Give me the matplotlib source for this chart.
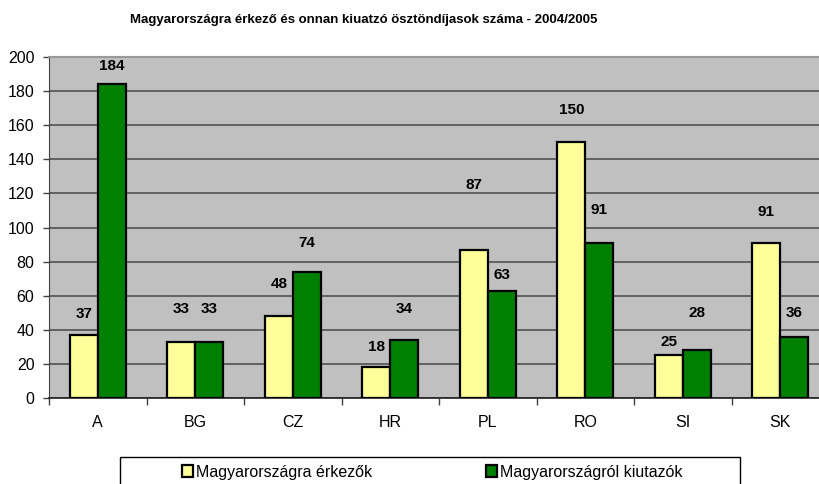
import matplotlib.pyplot as plt
from matplotlib.patches import Rectangle
import numpy as np

plt.rcParams['font.family'] = ['Liberation Sans', 'DejaVu Sans']

countries = ['A', 'BG', 'CZ', 'HR', 'PL', 'RO', 'SI', 'SK']
arriving = [37, 33, 48, 18, 87, 150, 25, 91]
leaving = [184, 33, 74, 34, 63, 91, 28, 36]
series_names = ['Magyarországra érkezők', 'Magyarországról kiutazók']

# label offsets above the bar tops (value units), as placed in the original
arr_off = [12, 19, 19, 12, 38, 19, 8, 18]
lea_off = [11, 19, 17, 18, 9, 19, 22, 14]

fig = plt.figure(figsize=(8.19, 4.84), dpi=100)
ax = fig.add_axes([49 / 819, 1 - 398 / 484, 780 / 819, 341 / 484])
ax.set_facecolor('#C0C0C0')

x = np.arange(len(countries))
w = 0.287
b1 = ax.bar(x - w / 2, arriving, w, color='#FFFF99', edgecolor='black', linewidth=1.6,
            label=series_names[0], zorder=3)
b2 = ax.bar(x + w / 2, leaving, w, color='#008000', edgecolor='black', linewidth=1.6,
            label=series_names[1], zorder=3)

for i in range(len(countries)):
    ax.text(x[i] - w / 2, arriving[i] + arr_off[i], str(arriving[i]), ha='center', va='center',
            fontsize=11, fontweight='bold')
    ax.text(x[i] + w / 2, leaving[i] + lea_off[i], str(leaving[i]), ha='center', va='center',
            fontsize=11, fontweight='bold')

ax.set_xlim(-0.5, len(countries) - 0.5)
ax.set_ylim(0, 200)
ax.set_yticks(range(0, 201, 20))
ax.yaxis.grid(True, color='#5a5a5a', linewidth=1.3, zorder=0)
ax.set_axisbelow(True)

ax.set_xticks(x)
ax.set_xticklabels(countries)
ax.set_xticks(np.arange(-0.5, len(countries), 1), minor=True)
ax.tick_params(axis='x', which='major', length=0, pad=12, labelsize=11.5)
ax.tick_params(axis='x', which='minor', length=5, width=1, color='#404040')
ax.tick_params(axis='y', length=4, width=1, pad=6.5, labelsize=11.5, color='#404040')

ax.spines['top'].set_color('#999999')
ax.spines['top'].set_linewidth(1.5)
ax.spines['right'].set_visible(False)
ax.spines['left'].set_color('#404040')
ax.spines['bottom'].set_color('#202020')
ax.spines['bottom'].set_linewidth(1.2)

fig.text(0.5 * (128 + 599) / 819, 1 - 20 / 484,
         'Magyarországra érkező és onnan kiuatzó ösztöndíjasok száma - 2004/2005',
         ha='center', va='center', fontsize=9.5, fontweight='bold')

fig.patches.append(Rectangle((120 / 819, -0.05), 620 / 819, 0.05 + 27 / 484,
                             transform=fig.transFigure, facecolor='white',
                             edgecolor='black', linewidth=1))
fig.legend(handles=[b1, b2], loc='center', bbox_to_anchor=(432 / 819, 1 - 472 / 484),
           ncol=2, frameon=False, fontsize=11.5, handlelength=0.7, handleheight=0.7,
           handletextpad=0.2, columnspacing=7.1)

fig.savefig('out.png', dpi=100)
